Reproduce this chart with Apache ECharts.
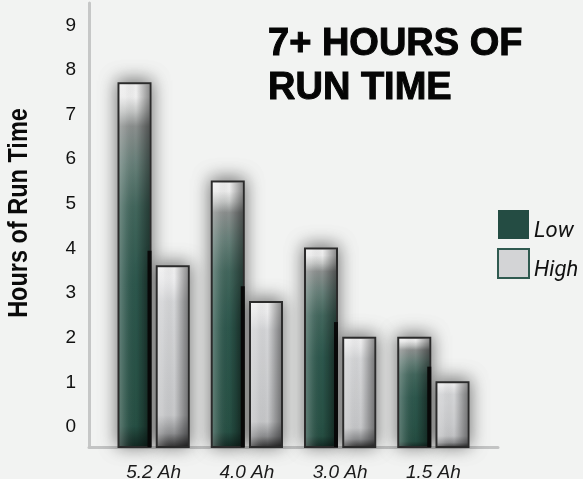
<!DOCTYPE html>
<html>
<head>
<meta charset="utf-8">
<script src="https://cdn.jsdelivr.net/npm/echarts@6/dist/echarts.min.js"></script>
<style>
  html, body { margin: 0; padding: 0; background: #f2f3f2; }
  #chart { width: 583px; height: 479px; }
</style>
</head>
<body>
<div id="chart"></div>
<script>
// Battery packs and hours of run time at low / high power
const categories = ['5.2 Ah', '4.0 Ah', '3.0 Ah', '1.5 Ah'];
const lowHours = [7.7, 5.5, 4.0, 2.0];
const highHours = [3.6, 2.8, 2.0, 1.0];
const yTickLabels = [0, 1, 2, 3, 4, 5, 6, 7, 8, 9];

// value-axis range: bars rise from the floor of the plot, a little below "0"
const Y_MIN = -0.45;
const Y_MAX = 9.5;

const chart = echarts.init(document.getElementById('chart'), null, { renderer: 'canvas' });

function lowFill() {
  return new echarts.graphic.LinearGradient(0, 0, 0, 1, [
    { offset: 0.00, color: '#ffffff' },
    { offset: 0.04, color: '#f7f7f7' },
    { offset: 0.08, color: '#c9cbca' },
    { offset: 0.12, color: '#8e9291' },
    { offset: 0.22, color: '#6a837c' },
    { offset: 0.34, color: '#44695f' },
    { offset: 0.55, color: '#2f5a4f' },
    { offset: 0.94, color: '#285246' },
    { offset: 1.00, color: '#142a24' }
  ]);
}
function highFill() {
  return new echarts.graphic.LinearGradient(0, 0, 0, 1, [
    { offset: 0.00, color: '#ffffff' },
    { offset: 0.07, color: '#f6f6f7' },
    { offset: 0.20, color: '#dadbdd' },
    { offset: 0.82, color: '#cbccce' },
    { offset: 0.92, color: '#939496' },
    { offset: 1.00, color: '#2c2c2c' }
  ]);
}
function sideShade() {
  return new echarts.graphic.LinearGradient(0, 0, 1, 0, [
    { offset: 0.00, color: 'rgba(255,255,255,0.25)' },
    { offset: 0.18, color: 'rgba(255,255,255,0.12)' },
    { offset: 0.55, color: 'rgba(0,0,0,0.0)' },
    { offset: 1.00, color: 'rgba(0,0,0,0.40)' }
  ]);
}

function barRenderer(kind) {
  return function (params, api) {
    const idx = api.value(0);
    const val = api.value(1);
    const band = api.size([1, 0])[0];
    const top = api.coord([idx, val]);
    const base = api.coord([idx, Y_MIN]);
    const w = band * 0.343;
    const off = band * 0.205 * (kind === 'low' ? -1 : 1);
    const x = top[0] + off - w / 2;
    const y = top[1];
    const h = base[1] - top[1];
    const children = [
      {
        type: 'rect',
        shape: { x: x, y: y, width: w, height: h },
        style: {
          fill: kind === 'low' ? lowFill() : highFill(),
          stroke: '#2b2b2b',
          lineWidth: 2,
          shadowBlur: 18,
          shadowOffsetY: -2,
          shadowColor: 'rgba(0,0,0,0.55)'
        }
      },
      {
        type: 'rect',
        shape: { x: x + 1, y: y + 1, width: w - 2, height: h - 2 },
        style: { fill: sideShade() }
      }
    ];
    if (kind === 'low') {
      // dark edge where the neighbouring high bar sits against it
      const edgeTop = api.coord([idx, highHours[idx] + 0.35]);
      children.push({
        type: 'rect',
        shape: { x: x + w - 3, y: edgeTop[1], width: 4, height: base[1] - edgeTop[1] },
        style: { fill: '#0a0a0a' }
      });
    }
    return { type: 'group', children: children };
  };
}

const lowData = lowHours.map((v, i) => [i, v]);
const highData = highHours.map((v, i) => [i, v]);

const option = {
  backgroundColor: '#f2f3f2',
  animation: false,
  title: {
    text: '7+ HOURS OF\nRUN TIME',
    left: 263,
    top: 18,
    textStyle: {
      fontFamily: 'Liberation Sans',
      fontSize: 38,
      fontWeight: 'bold',
      lineHeight: 44,
      color: '#050505',
      textBorderColor: '#050505',
      textBorderWidth: 1
    }
  },
  legend: {
    orient: 'vertical',
    left: 497,
    top: 207,
    itemWidth: 31,
    itemHeight: 29,
    itemGap: 4,
    padding: 0,
    // an empty first line lowers each name to sit near the foot of its swatch
    formatter: name => '\n' + name,
    textStyle: {
      fontFamily: 'Roboto',
      fontStyle: 'italic',
      fontSize: 22,
      lineHeight: 13,
      color: '#111'
    },
    data: [
      { name: 'Low', icon: 'rect', itemStyle: { color: '#244c43', borderWidth: 0 } },
      { name: 'High', icon: 'rect', itemStyle: { color: '#d3d4d6', borderColor: '#2f5a50', borderWidth: 2 } }
    ]
  },
  graphic: [
    {
      type: 'text',
      rotation: Math.PI / 2,
      scaleX: 0.87,
      x: 20,
      y: 213,
      style: {
        text: 'Hours of Run Time',
        fontFamily: 'Liberation Sans',
        fontWeight: 'bold',
        fontSize: 27,
        fill: '#0a0a0a',
        align: 'center',
        verticalAlign: 'middle'
      }
    }
  ],
  grid: [
    { left: 107, width: 373, top: 3, bottom: 32, containLabel: false, outerBoundsMode: 'none' },
    { left: 89, width: 409, top: 3, bottom: 32, containLabel: false, outerBoundsMode: 'none' }
  ],
  xAxis: [
    {
      type: 'category',
      gridIndex: 0,
      data: categories,
      axisLine: { show: false },
      axisTick: { show: false },
      axisLabel: {
        margin: 16,
        fontFamily: 'Liberation Sans',
        fontStyle: 'italic',
        fontSize: 19,
        color: '#1a1a1a'
      }
    },
    {
      type: 'value',
      gridIndex: 1,
      min: 0,
      max: 1,
      axisLine: { show: true, lineStyle: { color: '#c3c4c4', width: 3 } },
      axisTick: { show: false },
      axisLabel: { show: false },
      splitLine: { show: false }
    }
  ],
  yAxis: [
    {
      type: 'value',
      gridIndex: 0,
      min: Y_MIN,
      max: Y_MAX,
      offset: 18,
      axisLine: { show: true, lineStyle: { color: '#c6c7c7', width: 3 } },
      axisTick: { show: false },
      splitLine: { show: false },
      axisLabel: {
        customValues: yTickLabels,
        margin: 13,
        fontFamily: 'Liberation Sans',
        fontSize: 19,
        color: '#111'
      }
    },
    {
      type: 'value',
      gridIndex: 1,
      min: 0,
      max: 1,
      show: false
    }
  ],
  series: [
    {
      name: 'Low',
      type: 'custom',
      xAxisIndex: 0,
      yAxisIndex: 0,
      itemStyle: { color: '#244c43' },
      renderItem: barRenderer('low'),
      encode: { x: 0, y: 1 },
      data: lowData
    },
    {
      name: 'High',
      type: 'custom',
      xAxisIndex: 0,
      yAxisIndex: 0,
      itemStyle: { color: '#d3d4d6' },
      renderItem: barRenderer('high'),
      encode: { x: 0, y: 1 },
      data: highData
    }
  ]
};

chart.setOption(option);
</script>
</body>
</html>
